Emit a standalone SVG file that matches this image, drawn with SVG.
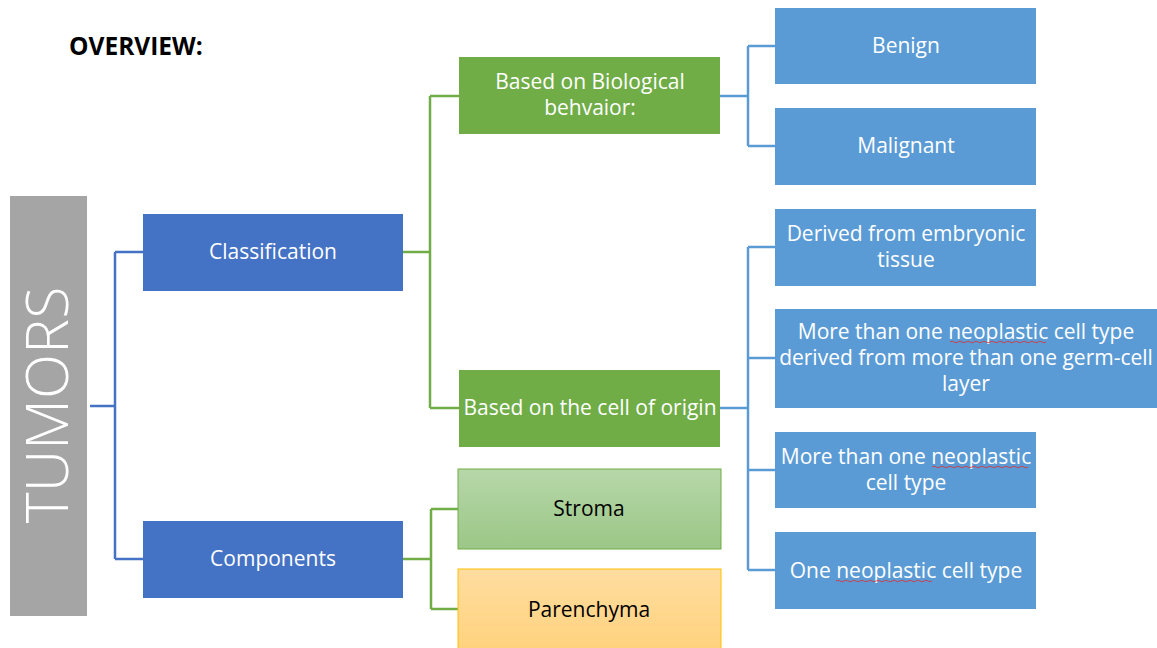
<svg xmlns="http://www.w3.org/2000/svg" width="1157" height="648" viewBox="0 0 1157 648">
<style>
.t{font-family:"Open Sans","Liberation Sans",sans-serif;font-size:21px;fill:#fff;text-anchor:middle}
.d{fill:#000}
.c{fill:none;stroke-width:2.5}
.blue{fill:#4472C4}
.green{fill:#70AD47}
.lb{fill:#5B9BD5}
.sq{fill:none;stroke:#E03030;stroke-width:0.8}
</style>
<defs>
<linearGradient id="gs" x1="0" y1="0" x2="0" y2="1"><stop offset="0" stop-color="#B7D7A9"/><stop offset="1" stop-color="#9BC787"/></linearGradient>
<linearGradient id="gp" x1="0" y1="0" x2="0" y2="1"><stop offset="0" stop-color="#FFDDA0"/><stop offset="1" stop-color="#FFD27E"/></linearGradient>
</defs>
<rect width="1157" height="648" fill="#fff"/>
<text x="69" y="55" style="font-family:'Open Sans','Liberation Sans',sans-serif;font-size:24.5px;font-weight:bold;fill:#000">OVERVIEW:</text>
<g id="connectors">
<path class="c" stroke="#4472C4" d="M90 406H115M115 252V559M115 252H143M115 559H143"/>
<path class="c" stroke="#70AD47" d="M403 252H430M430 96V408M430 96H459M430 408H459"/>
<path class="c" stroke="#70AD47" d="M403 559H431M431 509V609M431 509H458M431 609H458"/>
<path class="c" stroke="#5B9BD5" d="M720 96H748M748 46V146M748 46H775M748 146H775"/>
<path class="c" stroke="#5B9BD5" d="M720 408H748M748 247V570M748 247H775M748 358H775M748 470H775M748 570H775"/>
</g>
<g id="tumors"><rect x="10" y="196" width="77" height="420" fill="#A5A5A5"/><text transform="translate(68 405) rotate(-90)" style="font-family:'Open Sans','Liberation Sans',sans-serif;font-size:59px;font-weight:300;fill:#fff;text-anchor:middle">TUMORS</text></g>
<g id="classification"><rect class="blue" x="143" y="214" width="260" height="77"/><text class="t" x="273" y="259">Classification</text></g>
<g id="components"><rect class="blue" x="143" y="521" width="260" height="77"/><text class="t" x="273" y="566">Components</text></g>
<g id="biological"><rect class="green" x="459" y="57" width="261" height="77"/><text class="t" x="590" y="89">Based on Biological</text><text class="t" x="590" y="115">behvaior:</text></g>
<g id="origin"><rect class="green" x="459" y="370" width="261" height="77"/><text class="t" x="590" y="415">Based on the cell of origin</text></g>
<g id="stroma"><rect x="458" y="469" width="263" height="80" fill="url(#gs)" stroke="#70AD47" stroke-width="1"/><text class="t d" x="589" y="516">Stroma</text></g>
<g id="parenchyma"><rect x="458" y="569" width="263" height="80" fill="url(#gp)" stroke="#FFC000" stroke-width="1"/><text class="t d" x="589" y="617">Parenchyma</text></g>
<g id="benign"><rect class="lb" x="775" y="8" width="261" height="76"/><text class="t" x="906" y="53">Benign</text></g>
<g id="malignant"><rect class="lb" x="775" y="108" width="261" height="77"/><text class="t" x="906" y="153">Malignant</text></g>
<g id="embryonic"><rect class="lb" x="775" y="209" width="261" height="77"/><text class="t" x="906" y="241">Derived from embryonic</text><text class="t" x="906" y="267">tissue</text></g>
<g id="germcell"><rect class="lb" x="775" y="309" width="382" height="99"/><text class="t" x="966" y="339">More than one neoplastic cell type</text><text class="t" x="966" y="365">derived from more than one germ-cell</text><text class="t" x="966" y="391">layer</text><path class="sq" d="M950 342q2-1.5 4 0t4 0t4 0t4 0t4 0t4 0t4 0t4 0t4 0t4 0t4 0t4 0t4 0t4 0t4 0t4 0t4 0t4 0t4 0t4 0t4 0t4 0t4 0t4 0"/></g>
<g id="multi"><rect class="lb" x="775" y="432" width="261" height="76"/><text class="t" x="906" y="464">More than one neoplastic</text><text class="t" x="906" y="490">cell type</text><path class="sq" d="M932 467q2-1.5 4 0t4 0t4 0t4 0t4 0t4 0t4 0t4 0t4 0t4 0t4 0t4 0t4 0t4 0t4 0t4 0t4 0t4 0t4 0t4 0t4 0t4 0t4 0t4 0"/></g>
<g id="single"><rect class="lb" x="775" y="532" width="261" height="77"/><text class="t" x="906" y="578">One neoplastic cell type</text><path class="sq" d="M836 581q2-1.5 4 0t4 0t4 0t4 0t4 0t4 0t4 0t4 0t4 0t4 0t4 0t4 0t4 0t4 0t4 0t4 0t4 0t4 0t4 0t4 0t4 0t4 0t4 0t4 0"/></g>
</svg>
